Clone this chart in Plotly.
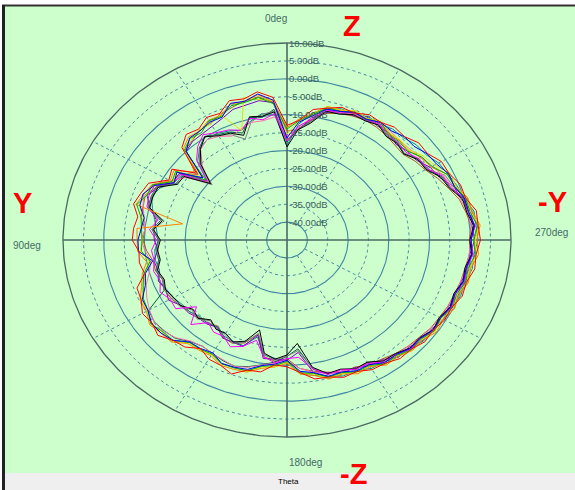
import numpy as np
import plotly.graph_objects as go

# ---------------- data ----------------
theta_deg = list(range(0, 360, 5))          # 0deg at top, counter-clockwise (90deg on the left)
db_min, db_max = -45.0, 10.0
ring_db = [10, 5, 0, -5, -10, -15, -20, -25, -30, -35, -40]
ring_labels = ["10.00dB", "5.00dB", "0.00dB", "-5.00dB", "-10.00dB", "-15.00dB",
               "-20.00dB", "-25.00dB", "-30.00dB", "-35.00dB", "-40.00dB"]
spoke_deg = [30, 60, 120, 150, 210, 240, 300, 330]
axis_deg = [0, 90, 180, 270]

s_red = [-13, -5, -3, -4.2, -3.6, -6, -5.5, -7.2, -6.5, -8.5, -16, -10.5,
         -11.5, -7.5, -6.8, -6, -7.8, -7.2, -7, -8.5, -8.2, -8.8, -5.8, -5.5,
         -4, -4.6, -3.6, -5.4, -6, -8, -6.6, -6.4, -5.2, -7.4, -7.6, -10,
         -9.6, -7.8, -5.6, -5.4, -4.2, -4.5, -3.2, -3, -1.8, -1.9, -0.8, -1.2,
         -0.3, -0.4, 0.8, 0.6, 1.8, 1.6, 2.5, 2.1, 2.2, 0.4, 0.3, -1.1,
         -1.2, -2.9, -2.8, -4.2, -3.9, -4.9, -4.6, -5.9, -5.6, -6.9, -8, -11.5]
s_blue = [-16.5, -5.8, -3.6, -4.9, -4.4, -7.2, -7, -7.8, -7.8, -10, -18, -12,
          -13, -9, -7.4, -7.6, -9.4, -9, -8.4, -8.4, -11.5, -9, -8, -5.8,
          -5.6, -4.4, -4.6, -5.4, -7.8, -8, -8.6, -7, -7.2, -7.6, -9.4, -10.2,
          -11.4, -8.2, -7.4, -5.6, -5.8, -4.7, -4.8, -3.2, -3.3, -2.2, -2.3, -1.2,
          -1.5, -0.7, -1.1, -0.2, -0.3, 0.6, 0.2, 1.2, 0.3, 0.1, -1.3, -1.2,
          -2.6, -3, -4.3, -4.2, -5.2, -4.9, -6.1, -5.7, -6.8, -7.2, -10, -12]
s_green = [-14, -6.8, -4.6, -5.2, -5.1, -6.9, -6.6, -8.4, -8, -9.4, -19, -11.6,
           -12.4, -8.6, -8.4, -6.8, -8.6, -9.1, -9.4, -9.1, -10.9, -8.6, -7.4, -6.1,
           -5.6, -4.2, -5.2, -5.4, -7.7, -7.8, -8.2, -6.9, -7, -7.2, -9.2, -9.8,
           -11.1, -7.8, -7.2, -5.4, -5.6, -4.4, -4.6, -2.8, -3, -1.7, -2, -0.8,
           -1.4, -0.2, -0.7, 0.4, 0.2, 1.4, 0.8, 1.9, 0.6, 0.4, -1.2, -1.6,
           -3.9, -4.6, -6.4, -6.1, -6.4, -4.9, -6, -5.6, -6.8, -6.8, -9.6, -11.6]
s_yellow = [-15.4, -5.8, -5.2, -3.8, -12.5, -6.4, -7.6, -7.4, -8.6, -8.8, -17.5, -11.8,
            -12.6, -8.8, -8.2, -7.4, -9.2, -8.8, -9.4, -8.8, -10.6, -8.8, -7.6, -5.6,
            -5.4, -4.1, -5, -5.2, -7.4, -7.6, -8, -6.8, -7.2, -7, -9, -9.4,
            -10.9, -7.6, -7, -5.2, -5.4, -4.2, -4.5, -2.7, -2.9, -1.6, -1.8, -0.6,
            -1.1, 0, -0.5, 0.7, 0.5, 1.7, 1.2, 2.3, 0.8, 0.6, -0.9, -0.8,
            -3.2, -4.1, -5.9, -5.6, -5.9, -4.6, -5.8, -5.2, -6.4, -6.4, -9.4, -11.6]
s_orange = [-13.6, -6.2, -3.8, -5, -4.6, -6.6, -6.4, -7.8, -7.4, -9, -15.5, -11.1,
            -11.9, -8.4, -7.6, -6.6, -19, -8, -8.2, -8.2, -10, -8.2, -7, -5.2,
            -5.2, -3.8, -4.6, -4.8, -7.2, -7.4, -7.7, -6.4, -6.6, -6.8, -8.6, -9.4,
            -10.6, -7.4, -6.6, -4.8, -5.2, -3.8, -4.2, -2.4, -2.6, -1.4, -1.6, -0.2,
            -0.7, 0.4, -0.1, 1.1, 0.8, 2.2, 1.6, 2.6, 1.2, 0.9, -1, -1.6,
            -4.2, -4.8, -6.2, -5.8, -6.2, -4.8, -5.8, -5.3, -6.5, -6.4, -9.2, -11.1]
s_magenta = [-17.4, -9.6, -10.9, -9.8, -12.4, -11.1, -10.4, -9.1, -10.9, -13.6, -19.4, -13.1,
             -12.9, -9.1, -8.9, -9.4, -12.9, -11.1, -12.9, -11.6, -11.9, -11.1, -11.9, -10.6,
             -11.9, -11.6, -16, -11.6, -14.9, -13.6, -13.9, -12.1, -13.4, -16, -11.9, -10.6,
             -11.9, -12.1, -8.4, -6.1, -6.4, -5.1, -5.2, -3.4, -3.2, -1.9, -2.2, -0.9,
             -1.4, -0.4, -1, 0.2, -0.2, 0.9, 0.2, 1.4, 0.2, 0.1, -2.2, -2.8,
             -5.2, -5.4, -6.9, -6.4, -6.6, -5.4, -6.2, -5.8, -7.2, -7.4, -10.9, -13.1]
s_black = [-19, -9.1, -9.9, -9.4, -13.9, -12.1, -11.4, -9.8, -11.9, -15.1, -20.5, -14.1,
           -13.9, -10.1, -9.9, -10.1, -13.9, -12.1, -13.9, -13.1, -13.4, -12.1, -12.9, -12.1,
           -12.9, -13.1, -14.9, -14.1, -15.9, -14.6, -14.9, -13.6, -14.9, -19, -12.9, -11.6,
           -12.9, -16, -8.9, -6.4, -6.6, -5.3, -5.6, -3.8, -3.6, -2.3, -2.5, -1.2,
           -1.8, -0.8, -1.4, -0.3, -0.6, 0.5, -0.1, 1, -0.2, -0.4, -2.6, -3.4,
           -5.6, -5.8, -7.6, -6.8, -7.2, -5.8, -6.6, -6.4, -7.6, -7.8, -11.9, -14.1]
s_gray = [-17.1, -8.9, -9.4, -10.9, -15, -12.6, -11.2, -9.8, -11.6, -14.6, -21, -13.6,
          -13.6, -9.8, -9.6, -9.8, -14.4, -11.8, -13.6, -12.8, -13.2, -11.8, -12.6, -11.8,
          -12.6, -12.8, -14.6, -13.8, -15.6, -14.8, -14.6, -13.3, -14.6, -18, -12.6, -11.3,
          -12.6, -14, -8.6, -6.3, -6.6, -5.3, -5.6, -3.8, -3.6, -2.3, -2.6, -1.3,
          -0.7, 0.3, -0.3, 0.8, 0.5, 1.6, 1, 2.1, 1, 0.8, -1.5, -2.2,
          -5.5, -5.7, -7.5, -6.7, -7, -5.7, -6.5, -6.2, -7.5, -7.7, -11.6, -13.8]
s_purple = [-17, -6.5, -5.5, -6, -6.2, -7.5, -8.2, -8.8, -9, -10, -18, -12.8,
            -12.4, -10.2, -8.4, -10.2, -12.4, -12.2, -12.4, -13.2, -11.8, -12.2, -11.4, -12.2,
            -11.4, -13.2, -13.4, -14.2, -14.4, -15.2, -13.4, -13.6, -13.4, -17.5, -11.4, -11.6,
            -11.4, -13.5, -7.4, -6.7, -5.4, -5.7, -4.4, -4.2, -2.4, -2.7, -1.4, -1.7,
            -0.6, -1.2, -0.2, -0.7, 0.6, 0.1, 1.1, 0.6, 1.1, -0.7, -1.4, -3.7,
            -4.4, -6.2, -6.4, -7.2, -5.9, -6.2, -5.4, -6.7, -6.4, -8.2, -10.4, -14.2]
s_dkgreen = [-17.6, -8.4, -10.2, -9.6, -13.2, -11.8, -11, -9.7, -11.5, -14.8, -20.2, -13.8,
             -13.5, -9.7, -9.5, -9.7, -13.5, -11.7, -13.5, -12.7, -13, -11.7, -12.5, -11.7,
             -5.8, -5.2, -5.6, -6.2, -8, -8.8, -8.4, -7.8, -7.5, -8.4, -9.6, -10.8,
             -12.5, -14.5, -8.5, -6.2, -6.5, -5.2, -5.5, -3.7, -3.5, -2.2, -2.5, -1.2,
             -1.6, -0.6, -1.2, -0.1, -0.4, 0.7, 0.1, 1.2, 0.1, -0.1, -2.4, -3.1,
             -5.4, -5.6, -7.4, -6.6, -6.9, -5.6, -6.4, -6.1, -7.4, -7.6, -11.4, -13.8]
s_pink = [-16, -10.5, -11.2, -11, -12, -13, -11.6, -10.8, -12, -15.6, -20, -14.6,
          -12, -8.6, -7.6, -8.4, -9.4, -10, -9.2, -10, -11, -10, -8.2, -7,
          -6, -5.2, -5.4, -6.4, -8.2, -8.8, -8.4, -8, -7.4, -8.2, -9.6, -10.6,
          -11.2, -9, -7.5, -6.4, -6, -5.4, -5, -4, -3.4, -2.9, -2.4, -1.9,
          -1.6, -1.3, -1.1, -0.8, -0.4, -0.1, 0.1, 0.4, 0, -0.9, -1.8, -2.6,
          -3.8, -5, -5.6, -5.8, -5.4, -5.6, -5.9, -6.3, -6.8, -7.6, -10.2, -13.4]
s_teal = [-18.6, -9.8, -9.2, -10.6, -12.4, -11.4, -10.6, -10.8, -11.6, -14, -19.5, -13.4,
          -13, -10.6, -9.6, -10.8, -12, -12.8, -13.4, -12.4, -12.2, -12.6, -11.6, -12.4,
          -12.8, -13.6, -13.8, -14.8, -14.6, -15.4, -14, -13.8, -13.6, -17, -12.4, -11.8,
          -10.8, -7.6, -6.6, -5.6, -4.6, -4.8, -3.6, -3.4, -2.4, -2.2, -1.2, -1,
          -0.6, -0.3, 0.4, 0.3, 1.2, 1.1, 1.9, 1.6, 1.6, 0, -0.6, -1.4,
          -2, -3.4, -3.6, -4.6, -4.6, -5.4, -5.2, -6.2, -6, -7.2, -9, -12.6]
s_brown = [-14.6, -6.4, -4.4, -4.8, -5.6, -6.2, -7.4, -7.6, -8.8, -9.6, -16.5, -12.6,
           -12.8, -9.8, -8, -8.4, -8.6, -10, -9.6, -10.4, -11.6, -11.6, -12.8, -11.8,
           -12.2, -13, -13.8, -14.4, -14.8, -15.6, -13.6, -13.2, -14.4, -17.8, -12, -11,
           -11.8, -9, -7.8, -6.8, -5.6, -5.8, -4.8, -4.4, -3.6, -3, -2.6, -2,
           -1.8, -1.4, -1.2, -0.8, -0.6, 0, -0.2, 0.4, -0.4, -1.2, -2.8, -4.2,
           -5.8, -6.6, -7.8, -7.6, -7, -6.6, -6.4, -6.8, -7.4, -8.4, -11, -14]

series = [
    ("brown", s_brown, "#b05a28"),
    ("teal", s_teal, "#008c8c"),
    ("dkgreen", s_dkgreen, "#006040"),
    ("purple", s_purple, "#8000c0"),
    ("gray", s_gray, "#808080"),
    ("pink", s_pink, "#ff70b0"),
    ("black", s_black, "#000000"),
    ("magenta", s_magenta, "#ff00ff"),
    ("orange", s_orange, "#ff8000"),
    ("yellow", s_yellow, "#e0e000"),
    ("green", s_green, "#00b000"),
    ("blue", s_blue, "#0000ff"),
    ("red", s_red, "#ff0000"),
]

# ---------------- geometry helpers ----------------
W, H = 575, 490
CX, CY = 287.0, 240.0      # pixel centre of the polar area
RX, RY = 224.0, 197.0      # pixel radii of the outer (10 dB) ring


def to_xy(db, th):
    db = np.asarray(db, dtype=float)
    rn = (db - db_min) / (db_max - db_min)
    t = np.radians(np.asarray(th, dtype=float))
    return -rn * np.sin(t), rn * np.cos(t)


def px(x):
    return x / W


def py(y):
    return 1 - y / H


fig = go.Figure()

# rings
full = np.arange(0, 361, 1)
for i, d in enumerate(ring_db):
    x, y = to_xy(np.full(full.shape, d), full)
    if i == 0:
        line = dict(color="#4a6862", width=1.3)
    elif i % 2 == 0:
        line = dict(color="#3f86a2", width=1.1)
    else:
        line = dict(color="#4a8c9e", width=1, dash="3px,3px")
    fig.add_trace(go.Scatter(x=x, y=y, mode="lines", line=line, hoverinfo="skip", showlegend=False))

# dashed spokes
for a in spoke_deg:
    x, y = to_xy([ring_db[-1], ring_db[0]], [a, a])
    fig.add_trace(go.Scatter(x=x, y=y, mode="lines",
                             line=dict(color="#4a8c9e", width=1, dash="3px,3px"),
                             hoverinfo="skip", showlegend=False))

# main axes
for a in axis_deg:
    x, y = to_xy([db_min, ring_db[0]], [a, a])
    fig.add_trace(go.Scatter(x=x, y=y, mode="lines", line=dict(color="#4a6a66", width=1.6),
                             hoverinfo="skip", showlegend=False))

# data series
for name, vals, col in series:
    th = theta_deg + [theta_deg[0] + 360]
    v = vals + [vals[0]]
    x, y = to_xy(v, th)
    fig.add_trace(go.Scatter(x=x, y=y, mode="lines", name=name,
                             line=dict(color=col, width=1), showlegend=False))

# ring labels along the top of the vertical axis
annotations = []
for d, lab in zip(ring_db, ring_labels):
    x, y = to_xy([d], [0])
    annotations.append(dict(x=float(x[0]), y=float(y[0]), xref="x", yref="y", text=lab,
                            showarrow=False, xanchor="left", yanchor="middle", xshift=0,
                            font=dict(family="Liberation Sans, Arial", size=9.5, color="#3a5e5e")))

deg_font = dict(family="Liberation Sans, Arial", size=10, color="#466a66")
for t, xp, yp in [("0deg", 276, 18), ("90deg", 27, 245), ("270deg", 551, 233), ("180deg", 305, 462)]:
    annotations.append(dict(x=px(xp), y=py(yp), xref="paper", yref="paper", text=t,
                            showarrow=False, xanchor="center", yanchor="middle", font=deg_font))

annotations.append(dict(x=px(288), y=py(481), xref="paper", yref="paper", text="Theta",
                        showarrow=False, xanchor="center", yanchor="middle",
                        font=dict(family="Liberation Sans, Arial", size=8, color="#000000")))

red_font = dict(family="Liberation Sans, Arial", size=29, color="#ff0000")
for t, xp, yp in [("Z", 352, 26), ("Y", 22, 203), ("-Y", 552, 202), ("-Z", 353, 474)]:
    annotations.append(dict(x=px(xp), y=py(yp), xref="paper", yref="paper", text="<b>%s</b>" % t,
                            showarrow=False, xanchor="center", yanchor="middle", font=red_font))

shapes = [
    dict(type="rect", xref="paper", yref="paper", x0=px(4), x1=1.0, y0=py(473), y1=py(6),
         fillcolor="#ccffcc", line=dict(width=0), layer="below"),
    dict(type="rect", xref="paper", yref="paper", x0=px(4), x1=1.0, y0=0.0, y1=py(473),
         fillcolor="#efefef", line=dict(width=0), layer="below"),
    dict(type="line", xref="paper", yref="paper", x0=px(2), x1=1.0, y0=py(5.5), y1=py(5.5),
         line=dict(color="#333333", width=2)),
    dict(type="line", xref="paper", yref="paper", x0=px(3.5), x1=px(3.5), y0=0.0, y1=py(5),
         line=dict(color="#222222", width=3)),
]

fig.update_layout(
    width=W, height=H,
    margin=dict(l=0, r=0, t=0, b=0),
    paper_bgcolor="#ffffff",
    plot_bgcolor="rgba(0,0,0,0)",
    xaxis=dict(range=[-CX / RX, (W - CX) / RX], visible=False, fixedrange=True),
    yaxis=dict(range=[(CY - H) / RY, CY / RY], visible=False, fixedrange=True),
    annotations=annotations,
    shapes=shapes,
    showlegend=False,
)

fig.write_html("out.html", config={"displayModeBar": False},
               post_script="document.body.style.margin='0';document.body.style.overflow='hidden';")
